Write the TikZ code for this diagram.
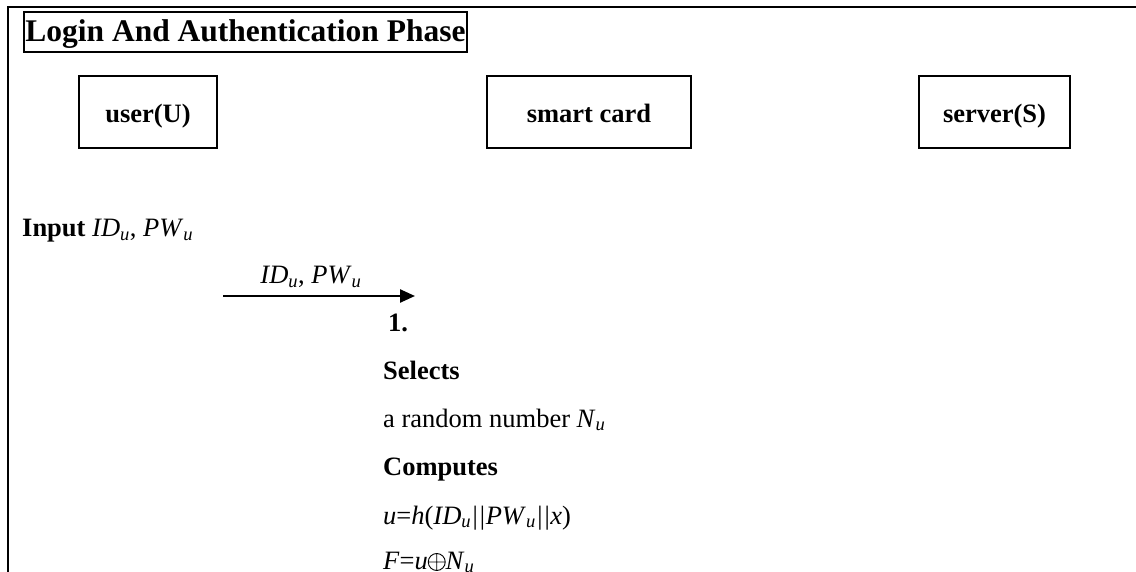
\documentclass[tikz,border=0pt]{standalone}
\usepackage{fontspec}
\setmainfont{Liberation Serif}
\usetikzlibrary{arrows.meta}
\newcommand\IDu{\textit{ID}\textsubscript{\textit{u}}}
\newcommand\PWu{\textit{PW}\textsubscript{\textit{u}}}
\newcommand\Nu{\textit{N}\textsubscript{\textit{u}}}
% circled plus (exclusive or), drawn as a small inline glyph
\newcommand\xorop{\tikz[x=1pt,y=1pt,baseline=0pt,line width=0.9pt]{%
  \draw (8.5,7) circle[radius=8.5] (0,7) -- (17,7) (8.5,-1.5) -- (8.5,15.5);}}
\begin{document}
\begin{tikzpicture}[x=1pt,y=-1pt,
  body/.style={font=\fontsize{26.5}{32}\selectfont, inner sep=0pt, anchor=base west},
  party/.style={draw, line width=1.6pt, font=\fontsize{26.5}{32}\selectfont\bfseries,
    text height=22pt, text depth=0pt, inner sep=0pt, minimum height=72pt},
  titlebox/.style={draw, line width=1.6pt, font=\fontsize{31.5}{38}\selectfont\bfseries,
    text height=20pt, text depth=0pt, inner ysep=0pt, inner xsep=1.5pt, minimum height=40pt},
  msg/.style={line width=2.4pt, -{Triangle[length=15pt,width=13pt]}}]
\useasboundingbox (0,0) rectangle (1136,572);
\fill[white] (0,0) rectangle (1136,572);
% open frame: top and left rules
\draw[line width=2pt] (7.5,572) -- (7.5,7.3) -- (1136,7.3);

% phase title
\node[titlebox] (title) at (245.5,32) {Login And Authentication Phase};

% participants
\node[party, minimum width=138pt] (user) at (148,112) {user(U)};
\node[party, minimum width=204pt] (card) at (589,112) {smart card};
\node[party, minimum width=151pt] (server) at (994.5,112) {server(S)};

% user input
\node[body] (input) at (22,237) {\textbf{Input} \IDu, \PWu};

% message 1: user to smart card
\coordinate (m1s) at (223,296);
\coordinate (m1e) at (415,296);
\draw[msg] (m1s) -- (m1e);
\node[body, anchor=base] (m1lbl) at (311,284) {\IDu, \PWu};

% smart card computations
\node[body] (step1) at (388,331) {\textbf{1.}};
\node[body] (sel) at (383,379) {\textbf{Selects}};
\node[body] (rnd) at (383,427) {a random number \Nu};
\node[body] (cmp) at (383,475) {\textbf{Computes}};
\node[body] (eqU) at (383,524) {\textit{u}=\textit{h}(\IDu\textit{||}\PWu\textit{||x})};
\node[body] (eqF) at (383,569) {\textit{F}=\textit{u}\xorop\Nu};
\end{tikzpicture}
\end{document}
